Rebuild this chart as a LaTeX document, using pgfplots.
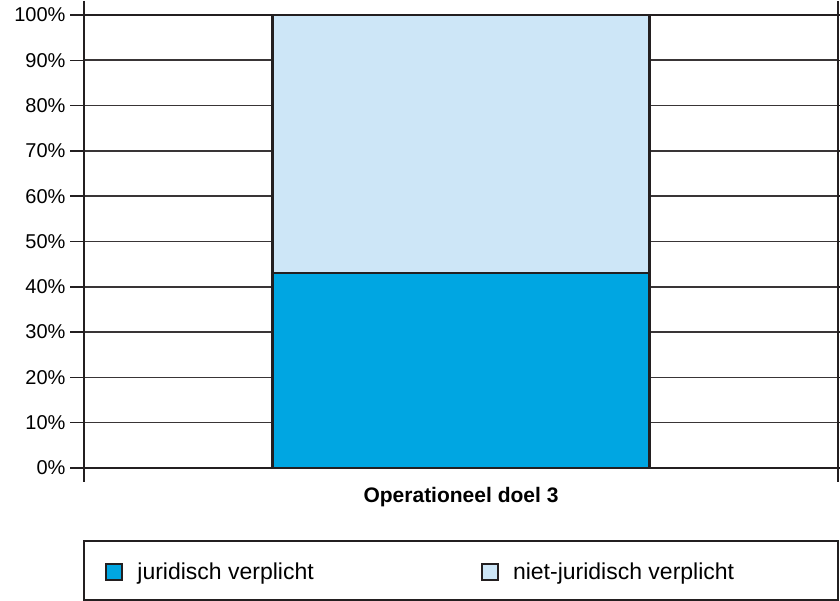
\documentclass[border=0pt]{standalone}
\usepackage{pgfplots}
\pgfplotsset{compat=1.18}
\usepackage{fontspec}
\setmainfont{Liberation Sans}
\definecolor{jur}{RGB}{0,166,226}
\definecolor{niet}{RGB}{205,230,247}
\definecolor{ln}{RGB}{35,31,32}
\begin{document}
\begin{tikzpicture}
\path[use as bounding box] (0,0) rectangle (840pt,601pt);
\begin{axis}[
  at={(84pt,133pt)}, anchor=south west,
  scale only axis, width=754pt, height=453pt,
  ybar stacked, bar width=1,
  xmin=-1, xmax=1, ymin=0, ymax=100,
  xtick={-1,1}, xticklabels={},
  ytick={0,10,...,100},
  yticklabel={\pgfmathprintnumber{\tick}\%},
  /pgf/number format/assume math mode=true,
  ymajorgrids, grid style={line width=1.6pt, color=ln!90},
  axis line style={line width=1.8pt, color=ln},
  tick style={line width=1.5pt, color=ln},
  tick align=outside, major tick length=14pt,
  ticklabel style={font=\fontsize{20}{24}\selectfont},
  yticklabel style={xshift=-1pt},
  xlabel={\textbf{Operationeel doel 3}},
  xlabel style={font=\fontsize{21}{25}\selectfont, at={(axis description cs:0.5,0)}, anchor=center, yshift=-29pt},
  legend columns=2,
  legend style={draw=none, fill=none, at={(axis description cs:0.0279,-0.2296)}, anchor=west, font=\fontsize{23}{27}\selectfont,
    /tikz/every odd column/.append style={column sep=12pt},
    /tikz/every even column/.append style={column sep=165pt}, inner sep=0pt},
  legend image code/.code={\draw[#1] (0pt,-8pt) rectangle (16pt,8pt);},
]
\addplot[fill=jur, draw=ln, line width=2.2pt] coordinates {(0,43)};
\addlegendentry{juridisch verplicht}
\addplot[fill=niet, draw=ln, line width=2.2pt] coordinates {(0,57)};
\addlegendentry{niet-juridisch verplicht}
\end{axis}
\draw[line width=1.8pt, color=ln] (84pt,1pt) rectangle (838pt,60pt);
\end{tikzpicture}
\end{document}
